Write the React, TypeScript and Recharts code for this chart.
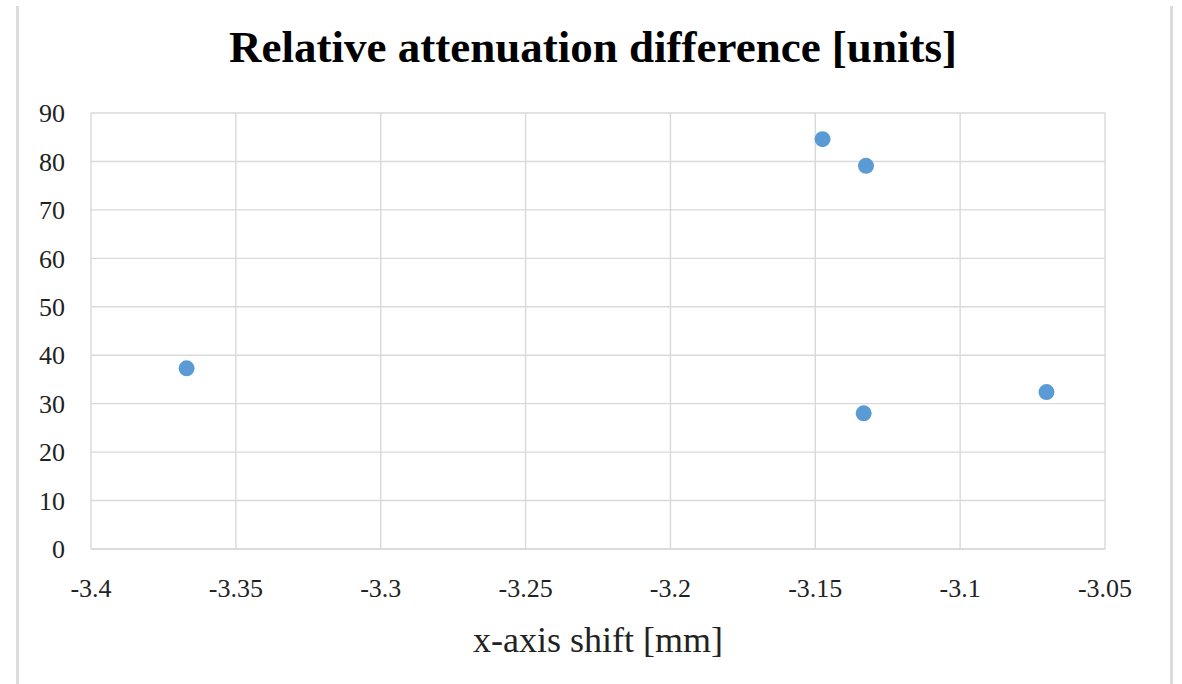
import React from 'react';
import { ScatterChart, Scatter, XAxis, YAxis, CartesianGrid } from 'recharts';

const xShift = [-3.367, -3.1475, -3.1325, -3.1333, -3.0702];
const attenuation = [37.3, 84.6, 79.1, 28.0, 32.4];
const xTicks = [-3.4, -3.35, -3.3, -3.25, -3.2, -3.15, -3.1, -3.05];
const yTicks = [0, 10, 20, 30, 40, 50, 60, 70, 80, 90];
const title = 'Relative attenuation difference [units]';
const xLabel = 'x-axis shift [mm]';

const data = xShift.map((x, i) => ({ x, y: attenuation[i] }));

const FONT = '"Liberation Serif", "Times New Roman", serif';
const GRID = '#d9d9d9';

const Dot = (props: any) => (
  <circle cx={props.cx} cy={props.cy} r={8} fill="#5b9bd5" />
);

export default function App() {
  return (
    <div style={{ position: 'fixed', left: 0, top: 0, width: 1182, height: 684, background: '#fff' }}>
      <ScatterChart
        width={1182}
        height={684}
        margin={{ top: 113, right: 77, bottom: 75, left: 0 }}
      >
        <CartesianGrid stroke={GRID} strokeWidth={1.4} />
        <XAxis
          type="number"
          dataKey="x"
          domain={[-3.4, -3.05]}
          ticks={xTicks}
          allowDataOverflow
          height={60}
          tickSize={0}
          tickMargin={30}
          axisLine={{ stroke: GRID, strokeWidth: 1.6 }}
          tickLine={false}
          tick={{ fill: '#222', fontSize: 26, fontFamily: FONT }}
        />
        <YAxis
          type="number"
          dataKey="y"
          domain={[0, 90]}
          ticks={yTicks}
          allowDataOverflow
          width={91}
          tickSize={0}
          tickMargin={26}
          axisLine={false}
          tickLine={false}
          tick={{ fill: '#222', fontSize: 26, fontFamily: FONT }}
        />
        <Scatter data={data} shape={Dot} isAnimationActive={false} />
      </ScatterChart>
      <svg width={1182} height={684} style={{ position: 'absolute', left: 0, top: 0, pointerEvents: 'none' }}>
        <line x1={17.5} y1={6} x2={17.5} y2={684} stroke="#dcdcdc" strokeWidth={3} />
        <line x1={1171.5} y1={6} x2={1171.5} y2={684} stroke="#dcdcdc" strokeWidth={3} />
        <text x={593} y={62} textAnchor="middle" fontFamily={FONT} fontWeight="bold" fontSize={45} fill="#000">
          {title}
        </text>
        <text x={598} y={652} textAnchor="middle" fontFamily={FONT} fontSize={36} fill="#222">
          {xLabel}
        </text>
      </svg>
    </div>
  );
}
